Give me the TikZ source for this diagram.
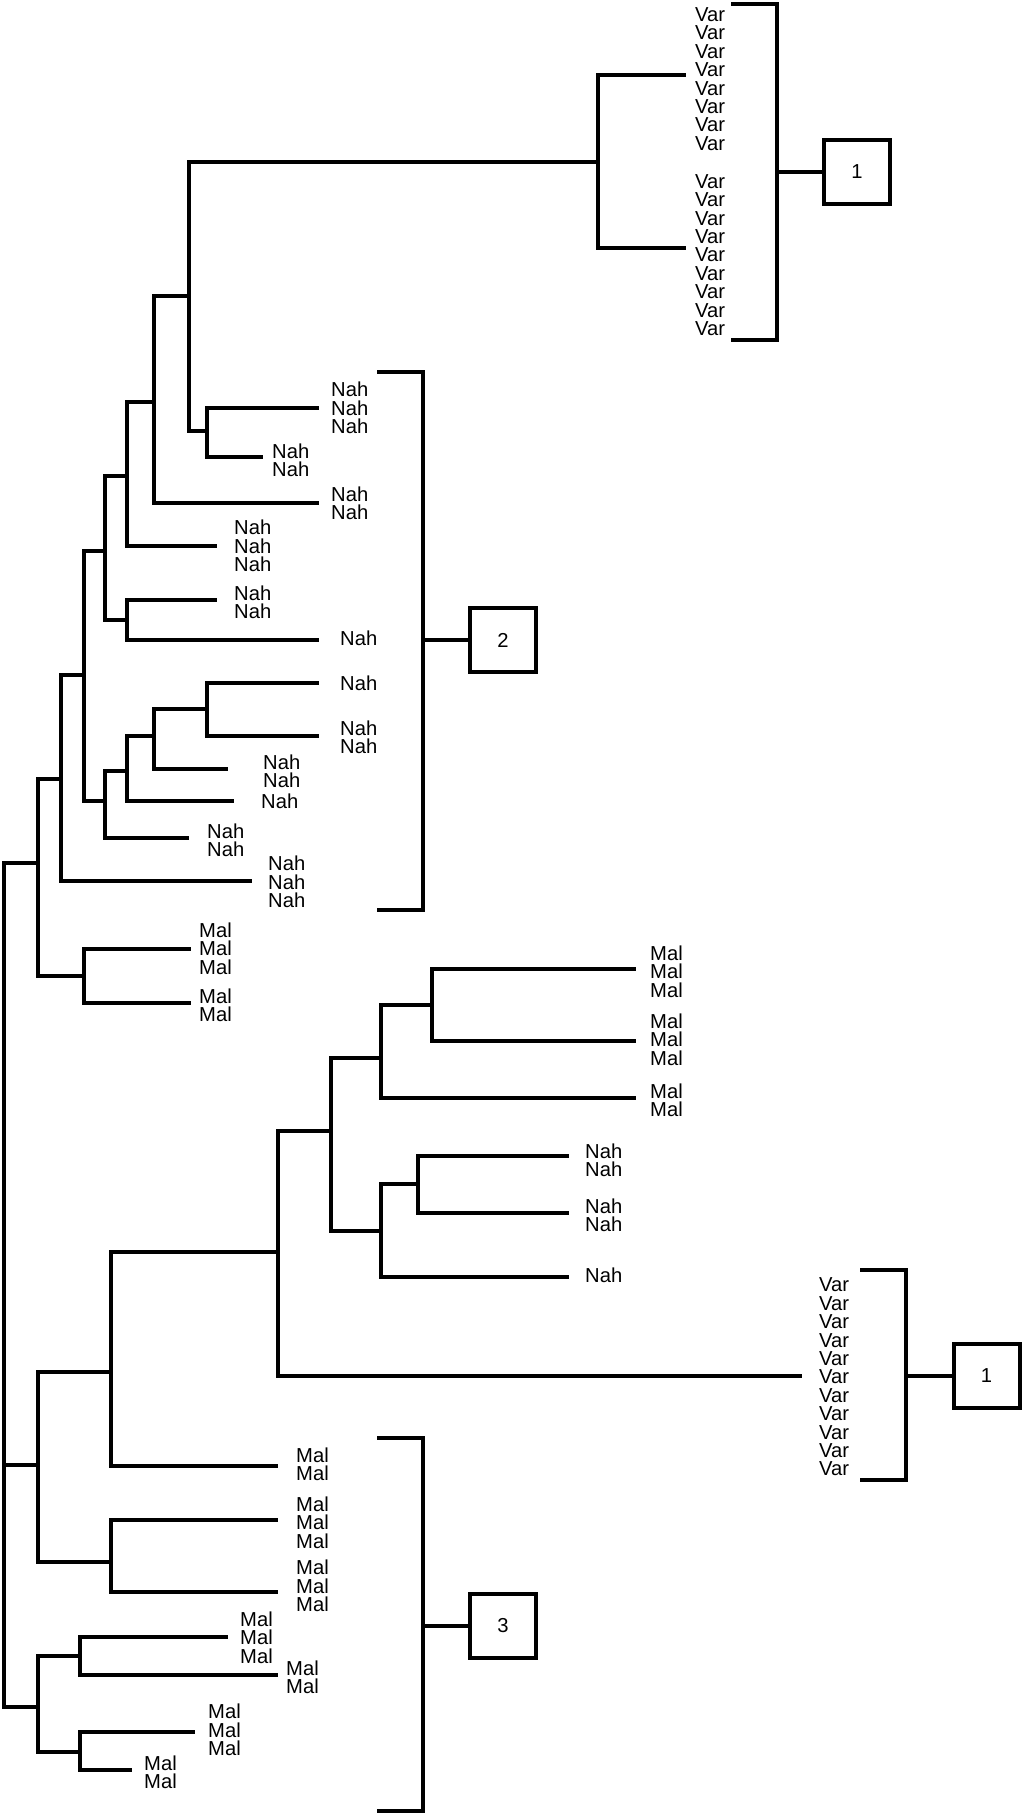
\documentclass[tikz,border=0pt]{standalone}
\usepackage{fontspec}
\setmainfont{Liberation Sans}
\begin{document}
\begin{tikzpicture}[x=1pt,y=-1pt,
  edge/.style={line width=4pt, line join=miter},
  lab/.style={anchor=west, align=left, inner sep=0pt, font=\fontsize{20.2}{18.4}\selectfont},
  grp/.style={draw, line width=4pt, minimum width=66pt, minimum height=64pt, inner sep=0pt, font=\fontsize{20.2}{18.4}\selectfont}]
\useasboundingbox (0,0) rectangle (1024,1815);
% internal nodes of the tree
\coordinate (r) at (4,1465);
\coordinate (a1) at (38,863);  \coordinate (a2) at (38,1465); \coordinate (a3) at (38,1707);
\coordinate (b1) at (61,779);  \coordinate (m1) at (84,976);
\coordinate (c1) at (84,675);
\coordinate (d1) at (105,551); \coordinate (d2) at (105,801);
\coordinate (e1) at (127,476); \coordinate (e2) at (127,620);
\coordinate (f1) at (154,402);
\coordinate (g1) at (189,296);
\coordinate (h1) at (598,162); \coordinate (h2) at (207,431);
\coordinate (e3) at (127,771);
\coordinate (f2) at (154,736);
\coordinate (g2) at (207,709);
\coordinate (b2) at (111,1372); \coordinate (b3) at (111,1562);
\coordinate (c2) at (278,1252);
\coordinate (d3) at (331,1131);
\coordinate (e4) at (381,1058); \coordinate (e5) at (381,1231);
\coordinate (f3) at (432,1005); \coordinate (f4) at (418,1184);
\coordinate (b4) at (80,1656);  \coordinate (b5) at (80,1752);
% leaf ends
\coordinate (L1) at (686,75);   \coordinate (L2) at (686,248);
\coordinate (L3) at (319,408);  \coordinate (L4) at (263,457);
\coordinate (L5) at (319,503);  \coordinate (L6) at (217,546);
\coordinate (L7) at (217,600);  \coordinate (L8) at (319,640);
\coordinate (L9) at (319,683);  \coordinate (L10) at (319,736);
\coordinate (L11) at (228,769); \coordinate (L12) at (234,801);
\coordinate (L13) at (189,838); \coordinate (L14) at (252,881);
\coordinate (L15) at (191,949); \coordinate (L16) at (191,1003);
\coordinate (L17) at (636,969); \coordinate (L18) at (636,1041);
\coordinate (L19) at (636,1098);
\coordinate (L20) at (569,1156); \coordinate (L21) at (569,1213);
\coordinate (L22) at (569,1277);
\coordinate (L23) at (802,1376);
\coordinate (L24) at (278,1466);
\coordinate (L25) at (278,1520); \coordinate (L26) at (278,1592);
\coordinate (L27) at (228,1637); \coordinate (L28) at (278,1675);
\coordinate (L29) at (195,1732); \coordinate (L30) at (132,1770);
% tree edges
\foreach \p/\c in {r/a1, r/a2, r/a3, a1/b1, a1/m1, b1/c1, b1/L14, c1/d1, c1/d2,
  d1/e1, d1/e2, e1/f1, e1/L6, f1/g1, f1/L5, g1/h1, g1/h2, h1/L1, h1/L2, h2/L3, h2/L4,
  e2/L7, e2/L8, d2/e3, d2/L13, e3/f2, e3/L12, f2/g2, f2/L11, g2/L9, g2/L10,
  m1/L15, m1/L16, a2/b2, a2/b3, b2/c2, b2/L24, c2/d3, c2/L23, d3/e4, d3/e5,
  e4/f3, e4/L19, f3/L17, f3/L18, e5/f4, e5/L22, f4/L20, f4/L21, b3/L25, b3/L26,
  a3/b4, a3/b5, b4/L27, b4/L28, b5/L29, b5/L30}
  \draw[edge] (\p) |- (\c);
% labels
\node[lab] (t1) at (695,79) {Var\\Var\\Var\\Var\\Var\\Var\\Var\\Var};
\node[lab] (t2) at (695,255) {Var\\Var\\Var\\Var\\Var\\Var\\Var\\Var\\Var};
\node[lab] (t3) at (819,1377) {Var\\Var\\Var\\Var\\Var\\Var\\Var\\Var\\Var\\Var\\Var};
\node[lab] (t4) at (331,408) {Nah\\Nah\\Nah};
\node[lab] (t5) at (272,460) {Nah\\Nah};
\node[lab] (t6) at (331,503.5) {Nah\\Nah};
\node[lab] (t7) at (234,546) {Nah\\Nah\\Nah};
\node[lab] (t8) at (234,602.5) {Nah\\Nah};
\node[lab] (t9) at (340,638) {Nah};
\node[lab] (t10) at (340,683) {Nah};
\node[lab] (t11) at (340,737.5) {Nah\\Nah};
\node[lab] (t12) at (263,771) {Nah\\Nah};
\node[lab] (t13) at (261,801) {Nah};
\node[lab] (t14) at (207,840.5) {Nah\\Nah};
\node[lab] (t15) at (268,882) {Nah\\Nah\\Nah};
\node[lab] (t16) at (199,948.5) {Mal\\Mal\\Mal};
\node[lab] (t17) at (199,1005) {Mal\\Mal};
\node[lab] (t18) at (650,971.5) {Mal\\Mal\\Mal};
\node[lab] (t19) at (650,1039.5) {Mal\\Mal\\Mal};
\node[lab] (t20) at (650,1100) {Mal\\Mal};
\node[lab] (t21) at (585,1160) {Nah\\Nah};
\node[lab] (t22) at (585,1215.5) {Nah\\Nah};
\node[lab] (t23) at (585,1275) {Nah};
\node[lab] (t24) at (296,1464) {Mal\\Mal};
\node[lab] (t25) at (296,1522.5) {Mal\\Mal\\Mal};
\node[lab] (t26) at (296,1586) {Mal\\Mal\\Mal};
\node[lab] (t27) at (240,1637.5) {Mal\\Mal\\Mal};
\node[lab] (t28) at (286,1677) {Mal\\Mal};
\node[lab] (t29) at (208,1730) {Mal\\Mal\\Mal};
\node[lab] (t30) at (144,1772.5) {Mal\\Mal};
% group boxes
\node[grp] (box1a) at (857,172) {1};
\node[grp] (box2) at (503,640) {2};
\node[grp] (box3) at (503,1626) {3};
\node[grp] (box1b) at (986.5,1376) {1};
% brackets
\coordinate (k1t) at (731,4);    \coordinate (k1m) at (777,172);  \coordinate (k1b) at (731,340);
\coordinate (k2t) at (377,372);  \coordinate (k2m) at (423,640);  \coordinate (k2b) at (377,910);
\coordinate (k3t) at (377,1438); \coordinate (k3m) at (423,1626); \coordinate (k3b) at (377,1811);
\coordinate (k4t) at (860,1270); \coordinate (k4m) at (906,1376); \coordinate (k4b) at (860,1480);
\draw[edge] (k1t) -| (k1m) |- (k1b); \draw[edge] (k1m) -- (box1a.west);
\draw[edge] (k2t) -| (k2m) |- (k2b); \draw[edge] (k2m) -- (box2.west);
\draw[edge] (k3t) -| (k3m) |- (k3b); \draw[edge] (k3m) -- (box3.west);
\draw[edge] (k4t) -| (k4m) |- (k4b); \draw[edge] (k4m) -- (box1b.west);
\end{tikzpicture}
\end{document}
